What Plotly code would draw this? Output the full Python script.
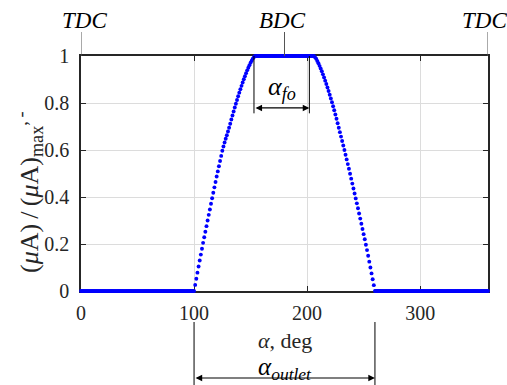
import plotly.graph_objects as go

# ---------------- data ----------------
# relative flow area (muA)/(muA)max sampled every degree of crank angle
rise_start = 100          # first angle of the opening flank
rise_values = [0.000, 0.026, 0.052, 0.078, 0.104, 0.130, 0.155, 0.180, 0.205, 0.229,
               0.252, 0.276, 0.300, 0.324, 0.347, 0.371, 0.395, 0.418, 0.441, 0.464,
               0.487, 0.509, 0.531, 0.553, 0.575, 0.597, 0.615, 0.632, 0.648, 0.663,
               0.679, 0.695, 0.712, 0.730, 0.747, 0.764, 0.781, 0.797, 0.813, 0.829,
               0.844, 0.859, 0.873, 0.887, 0.901, 0.914, 0.927, 0.939, 0.950, 0.961,
               0.971, 0.980, 0.989, 0.996, 1.000]          # 100 .. 154 deg
fall_start = 206          # first angle of the closing flank
fall_values = [1.000, 0.995, 0.988, 0.979, 0.969, 0.958, 0.947, 0.935, 0.922, 0.909,
               0.895, 0.881, 0.866, 0.851, 0.835, 0.819, 0.803, 0.786, 0.769, 0.751,
               0.733, 0.714, 0.695, 0.676, 0.657, 0.638, 0.619, 0.600, 0.580, 0.560,
               0.540, 0.520, 0.499, 0.478, 0.457, 0.436, 0.415, 0.394, 0.373, 0.352,
               0.330, 0.308, 0.286, 0.264, 0.242, 0.220, 0.197, 0.174, 0.150, 0.125,
               0.100, 0.075, 0.050, 0.025, 0.000]          # 206 .. 260 deg
closed_level = 0.0
open_level = 1.0
angle_min, angle_max = 0, 360

x_ticks = [0, 100, 200, 300]
x_tick_labels = ["0", "100", "200", "300"]
y_ticks = [0, 0.2, 0.4, 0.6, 0.8, 1]
y_tick_labels = ["0", "0.2", "0.4", "0.6", "0.8", "1"]

dead_centres = [0, 180, 360]
dead_centre_labels = ["TDC", "BDC", "TDC"]
dead_centre_shift = [3, -2, -4]   # pixel nudge of each label
fo_bounds = [153, 202]        # full-open interval
outlet_bounds = [100, 260]    # outlet open interval

# ---------------- build series ----------------
angles = list(range(angle_min, angle_max + 1))
rise_end = rise_start + len(rise_values) - 1
fall_end = fall_start + len(fall_values) - 1
values = []
for a in angles:
    if a < rise_start:
        values.append(closed_level)
    elif a <= rise_end:
        values.append(rise_values[a - rise_start])
    elif a < fall_start:
        values.append(open_level)
    elif a <= fall_end:
        values.append(fall_values[a - fall_start])
    else:
        values.append(closed_level)

FONT = "Liberation Serif"
INK = "#262626"

fig = go.Figure()
fig.add_trace(go.Scatter(
    x=angles, y=values, mode="markers",
    marker=dict(size=3.9, color="#0000ff", line=dict(width=0)),
    cliponaxis=False, showlegend=False, hoverinfo="skip"))

axis_common = dict(
    showgrid=True, gridcolor="#dcdcdc", gridwidth=1,
    showline=True, linecolor=INK, linewidth=1.6, mirror="ticks",
    ticks="inside", ticklen=5, tickcolor=INK, tickwidth=1.2,
    tickfont=dict(family=FONT, size=20, color=INK),
    zeroline=False, layer="below traces",
)
fig.update_xaxes(range=[angle_min, angle_max], tickvals=x_ticks, ticktext=x_tick_labels,
                 ticklabelstandoff=3, **axis_common)
fig.update_yaxes(range=[y_ticks[0], y_ticks[-1]], tickvals=y_ticks, ticktext=y_tick_labels,
                 ticklabelstandoff=6, **axis_common)

# plot-area geometry helper (fraction of plot height from pixels)
PLOT_H = 235.0
def py(px):
    return px / PLOT_H

annotations = []
shapes = []

# TDC / BDC markers
for xc, lab, sh in zip(dead_centres, dead_centre_labels, dead_centre_shift):
    shapes.append(dict(type="line", xref="x", yref="y domain", x0=xc, x1=xc,
                       y0=1, y1=1 + py(24), line=dict(color="#555555", width=1)))
    annotations.append(dict(x=xc, y=1 + py(35), xref="x", yref="y domain",
                            text="<i>" + lab + "</i>", xshift=sh,
                            showarrow=False, xanchor="center", yanchor="middle",
                            font=dict(family=FONT, size=23, color="black")))

# alpha_fo dimension
fo_low = 0.756
fo_arrow_y = 0.779
for xb in fo_bounds:
    shapes.append(dict(type="line", xref="x", yref="y", x0=xb, x1=xb, y0=fo_low, y1=1,
                       line=dict(color="black", width=1)))
annotations.append(dict(x=fo_bounds[1], y=fo_arrow_y, ax=fo_bounds[0], ay=fo_arrow_y,
                        xref="x", yref="y", axref="x", ayref="y", text="",
                        showarrow=True, arrowhead=2, arrowside="end+start",
                        arrowsize=1.1, arrowwidth=1.2, arrowcolor="black"))
annotations.append(dict(x=sum(fo_bounds) / 2, y=0.865, xref="x", yref="y",
                        xanchor="center", yanchor="middle",
                        text="<i>α<sub>fo</sub></i>", showarrow=False,
                        font=dict(family=FONT, size=26, color="black")))

# alpha_outlet dimension
for xb in outlet_bounds:
    shapes.append(dict(type="line", xref="x", yref="y domain", x0=xb, x1=xb,
                       y0=-py(95), y1=-py(31), line=dict(color="black", width=1)))
annotations.append(dict(x=outlet_bounds[1], y=-py(87), ax=outlet_bounds[0], ay=-py(87),
                        xref="x", yref="y domain", axref="x", ayref="y domain", text="",
                        showarrow=True, arrowhead=2, arrowside="end+start",
                        arrowsize=1.1, arrowwidth=1.2, arrowcolor="black"))
annotations.append(dict(x=sum(outlet_bounds) / 2, y=-py(77), xref="x", yref="y domain",
                        xanchor="center", yanchor="middle",
                        text="<i>α<sub>outlet</sub></i>", showarrow=False,
                        font=dict(family=FONT, size=25, color="black")))

# axis titles
annotations.append(dict(x=180, y=-py(49), xref="x", yref="y domain",
                        xanchor="center", yanchor="middle",
                        text="<i>α</i>, deg", showarrow=False,
                        font=dict(family=FONT, size=22, color=INK)))
annotations.append(dict(x=-52 / 407.0, y=py(99), xref="paper", yref="paper",
                        xanchor="center", yanchor="middle",
                        text="(<i>μ</i>A)\u2009/\u2009(<i>μ</i>A)<sub>max</sub><sup>,\u2009-</sup>",
                        textangle=-90, showarrow=False,
                        font=dict(family=FONT, size=26, color=INK)))

fig.update_layout(
    width=507, height=385,
    margin=dict(l=81, r=19, t=56, b=94),
    paper_bgcolor="white", plot_bgcolor="white",
    annotations=annotations, shapes=shapes,
    showlegend=False,
)

fig.write_html("out.html", config={"displayModeBar": False},
               post_script="document.body.style.margin='0';")
